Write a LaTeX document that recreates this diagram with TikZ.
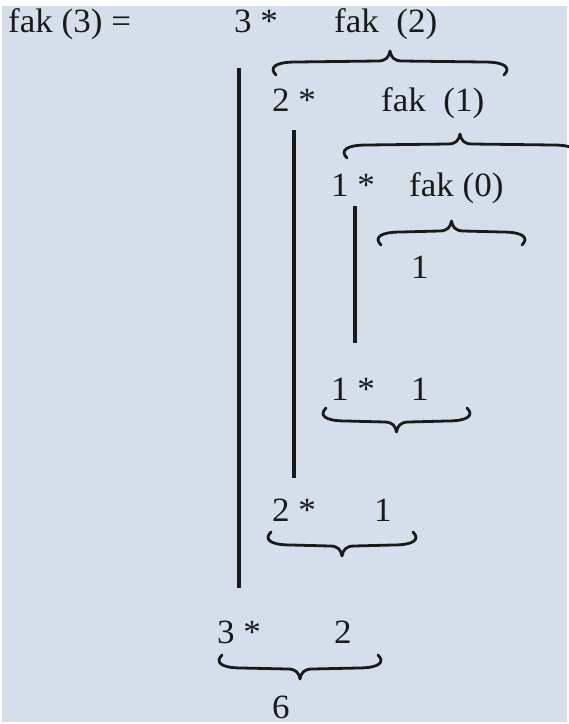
\documentclass[tikz,border=0pt]{standalone}
\usepackage{fontspec}
\setmainfont{Liberation Serif}[FakeStretch=1.03]
\usepackage{tikz}

\definecolor{hinter}{RGB}{213,222,235}
\definecolor{tinte}{RGB}{26,26,26}

% #1 links, #2 rechts, #3 Hoehe, #4 Richtung (-1 Spitze oben, 1 Spitze unten)
\newcommand{\klammer}[4]{%
  \draw[klam] ({#1+4},{#3-#4*13}) .. controls ({#1-3},{#3-#4*6}) and ({#1+2},{#3}) .. ({#1+24},{#3})
    -- ({(#1+#2)/2-12},{#3+#4*1}) .. controls ({(#1+#2)/2-4},{#3+#4*1}) and ({(#1+#2)/2-1},{#3+#4*5}) .. ({(#1+#2)/2},{#3+#4*11})
    .. controls ({(#1+#2)/2+1},{#3+#4*5}) and ({(#1+#2)/2+4},{#3+#4*1}) .. ({(#1+#2)/2+12},{#3+#4*1})
    -- ({#2-24},{#3}) .. controls ({#2-2},{#3}) and ({#2+3},{#3-#4*6}) .. ({#2-4},{#3-#4*13});}

\begin{document}
\begin{tikzpicture}[x=1pt,y=-1pt,
  txt/.style={anchor=base west,inner sep=0pt,text=tinte,font=\fontsize{34}{34}\selectfont},
  strich/.style={line width=3.6pt,draw=tinte},
  klam/.style={line width=2.8pt,draw=tinte,line cap=round,line join=round}]
	\useasboundingbox (0,0) rectangle (569,724);
	\fill[white] (0,0) rectangle (569,724);
	\fill[hinter] (2,6) rectangle (567,722);

	\node[txt] (f3) at (8,32) {fak (3) =};
	\node[txt] (m3) at (234,32) {3 *};
	\node[txt] (f2) at (334,32) {fak~~(2)};
	\node[txt] (m2) at (272,111) {2 *};
	\node[txt] (f1) at (381,111) {fak~~(1)};
	\node[txt] (m1) at (331,196) {1 *};
	\node[txt] (f0) at (409,196) {fak (0)};
	\node[txt] (r0) at (411,278) {1};
	\node[txt] (m1b) at (331,400) {1 *};
	\node[txt] (r1) at (411,400) {1};
	\node[txt] (m2b) at (272,521) {2 *};
	\node[txt] (r2) at (374,521) {1};
	\node[txt] (m3b) at (217,643) {3 *};
	\node[txt] (r3) at (334,643) {2};
	\node[txt] (erg) at (272,718) {6};

	\draw[strich] (239,68) -- (239,588);
	\draw[strich] (294,130) -- (294,478);
	\draw[strich] (355,206) -- (355,343);

	\klammer{272}{508}{62}{-1}
	\klammer{343}{577}{145}{-1}
	\klammer{377}{526}{232}{-1}
	\klammer{322}{471}{421}{1}
	\klammer{267}{417}{545}{1}
	\klammer{218}{382}{668}{1}
\end{tikzpicture}
\end{document}
